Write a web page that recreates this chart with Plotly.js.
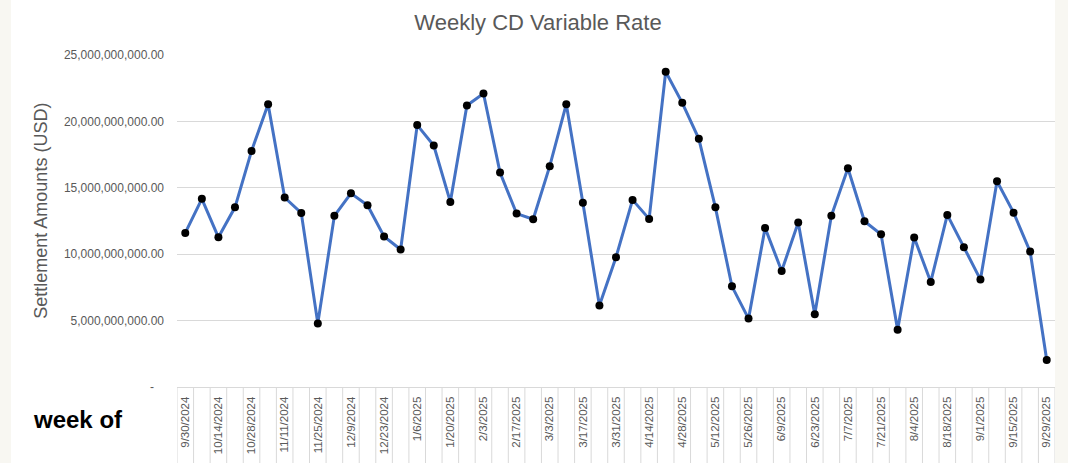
<!DOCTYPE html>
<html>
<head>
<meta charset="utf-8">
<script src="https://cdn.plot.ly/plotly-3.0.1.min.js"></script>
<style>
  html, body { margin: 0; padding: 0; background: #f8f7f2; width: 1068px; height: 463px; overflow: hidden; }
  #chart { position: absolute; left: 11px; top: 0; width: 1044px; height: 463px; background: #ffffff; }
</style>
</head>
<body>
<div id="chart"></div>
<script>
// ---- data ----
const weeks = [
  "9/30/2024","10/7/2024","10/14/2024","10/21/2024","10/28/2024","11/4/2024","11/11/2024","11/18/2024",
  "11/25/2024","12/2/2024","12/9/2024","12/16/2024","12/23/2024","12/30/2024","1/6/2025","1/13/2025",
  "1/20/2025","1/27/2025","2/3/2025","2/10/2025","2/17/2025","2/24/2025","3/3/2025","3/10/2025",
  "3/17/2025","3/24/2025","3/31/2025","4/7/2025","4/14/2025","4/21/2025","4/28/2025","5/5/2025",
  "5/12/2025","5/19/2025","5/26/2025","6/2/2025","6/9/2025","6/16/2025","6/23/2025","6/30/2025",
  "7/7/2025","7/14/2025","7/21/2025","7/28/2025","8/4/2025","8/11/2025","8/18/2025","8/25/2025",
  "9/1/2025","9/8/2025","9/15/2025","9/22/2025","9/29/2025"
];
const settlementBillions = [
  11.6, 14.17, 11.27, 13.53, 17.78, 21.3, 14.27, 13.11, 4.79, 12.89, 14.59, 13.69, 11.33, 10.35,
  19.72, 18.18, 13.94, 21.2, 22.1, 16.15, 13.06, 12.63, 16.63, 21.3, 13.87, 6.13,
  9.77, 14.09, 12.66, 23.74, 21.4, 18.69, 13.53, 7.58, 5.15, 11.98, 8.74, 12.38, 5.47, 12.89,
  16.47, 12.48, 11.5, 4.32, 11.25, 7.91, 12.96, 10.52, 8.09, 15.49, 13.13, 10.2, 2.03
];
const yTickVals = [0, 5e9, 10e9, 15e9, 20e9, 25e9];
const yTickText = ["-\u00a0\u00a0\u00a0", "5,000,000,000.00", "10,000,000,000.00", "15,000,000,000.00", "20,000,000,000.00", "25,000,000,000.00"];

const chartTitle = "Weekly CD Variable Rate";
const yTitle = "Settlement Amounts (USD)";
const xNote = "week of";

// ---- derived ----
const values = settlementBillions.map(v => v * 1e9);
const xTickText = weeks.map((w, i) => (i % 2 === 0 ? w : ""));

const W = 1044, H = 463;
const M = { l: 166, r: 0, t: 55, b: 76 };
const plotW = W - M.l - M.r, plotH = H - M.t - M.b;
const gridCol = "#d9d9d9";
const textCol = "#595959";

const shapes = [];
for (let i = 0; i <= weeks.length; i++) {
  shapes.push({
    type: "line", xref: "x", yref: "paper",
    x0: i - 0.5, x1: i - 0.5, y0: 0, y1: -M.b / plotH,
    line: { color: gridCol, width: 1 }
  });
}

const trace = {
  x: weeks, y: values, type: "scatter", mode: "lines+markers",
  line: { color: "#4472c4", width: 3 },
  marker: { color: "#000000", size: 8 },
  hoverinfo: "x+y"
};

const layout = {
  width: W, height: H,
  margin: M,
  paper_bgcolor: "#ffffff", plot_bgcolor: "#ffffff",
  showlegend: false,
  font: { family: "Liberation Sans, Arial, sans-serif", color: textCol },
  title: {
    text: chartTitle, font: { size: 22, color: textCol },
    xref: "container", x: (538 - 11) / W, xanchor: "center",
    yref: "container", y: 1 - 22 / H, yanchor: "middle"
  },
  xaxis: {
    type: "category", range: [-0.5, weeks.length - 0.5],
    tickvals: weeks, ticktext: xTickText, tickangle: -90,
    tickfont: { size: 11.5, color: textCol },
    showgrid: false, zeroline: false, ticks: "",
    showline: true, linecolor: gridCol, linewidth: 1,
    ticklabelstandoff: 4, fixedrange: true
  },
  yaxis: {
    range: [0, 25e9], tickvals: yTickVals, ticktext: yTickText,
    tickfont: { size: 12, color: textCol },
    showgrid: true, gridcolor: gridCol, gridwidth: 1,
    zeroline: false, showline: false, ticks: "",
    ticklabelstandoff: 12, fixedrange: true
  },
  shapes: shapes,
  annotations: [
    {
      text: yTitle, textangle: -90, showarrow: false,
      xref: "paper", yref: "paper",
      x: (41 - 11 - M.l) / plotW, y: (387.3 - 211) / plotH,
      xanchor: "center", yanchor: "middle",
      font: { size: 18, color: textCol }
    },
    {
      text: "<b>" + xNote + "</b>", showarrow: false,
      xref: "paper", yref: "paper",
      x: (31 - 11 - M.l) / plotW, y: -(419 - 387) / plotH,
      xanchor: "left", yanchor: "middle",
      font: { size: 24, color: "#000000" }
    }
  ]
};

Plotly.newPlot("chart", [trace], layout, { displayModeBar: false });
</script>
</body>
</html>
